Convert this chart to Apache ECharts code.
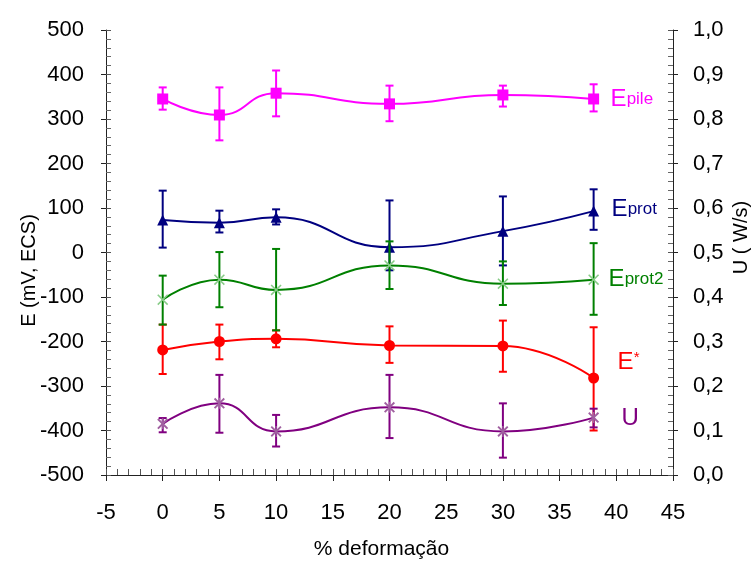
<!DOCTYPE html>
<html>
<head>
<meta charset="utf-8">
<script src="https://cdn.jsdelivr.net/npm/echarts@6/dist/echarts.min.js"></script>
<style>html,body{margin:0;padding:0;background:#fff;}#c{width:753px;height:561px;}</style>
</head>
<body>
<div id="c"></div>
<script>
// ---- data ----
const xVals = [0, 5, 10, 20, 30, 38];
const epile    = [345, 309, 358, 334, 354, 345];
const epileHi  = [371, 371, 409, 375, 375, 378];
const epileLo  = [321, 252, 306, 295, 328, 317];
const eprot    = [73, 67, 79, 12, 48, 93];
const eprotHi  = [139, 94, 97, 117, 126, 142];
const eprotLo  = [11, 45, 63, -40, -29, 51];
const eprot2   = [-106, -61, -84, -29, -70, -61];
const eprot2Hi = [-52, 1, 8, 25, -20, 21];
const eprot2Lo = [-162, -123, -175, -82, -118, -140];
const estar    = [-219, -200, -194, -209, -210, -282];
const estarHi  = [-162, -162, -175, -166, -153, -168];
const estarLo  = [-273, -240, -213, -248, -268, -400];
const uVals    = [0.115, 0.161, 0.098, 0.152, 0.098, 0.129];
const uHi      = [0.128, 0.225, 0.135, 0.225, 0.161, 0.149];
const uLo      = [0.096, 0.095, 0.064, 0.083, 0.039, 0.107];
const leftTicks = { min: -500, max: 500, interval: 100 };
const rightTicks = { min: 0, max: 1, interval: 0.1 };
const xTicks = { min: -5, max: 45, interval: 5 };

const FONT = "'Liberation Sans', Arial, sans-serif";
const chart = echarts.init(document.getElementById('c'), null, { renderer: 'canvas' });

const xSym = 'path://M0,1L1,0L5,4L9,0L10,1L6,5L10,9L9,10L5,6L1,10L0,9L4,5Z';
const starSym = 'path://M0,1.2L1.2,0L5,3.8L8.8,0L10,1.2L6.2,5L10,8.8L8.8,10L5,6.2L1.2,10L0,8.8L3.8,5Z M4.4,0L5.6,0L5.6,10L4.4,10Z';

function pts(vals) { return xVals.map((x, i) => [x, vals[i]]); }
function errData(lo, hi) { return xVals.map((x, i) => [x, lo[i], hi[i]]); }

function errSeries(lo, hi, color, yIdx, z) {
  return {
    type: 'custom', yAxisIndex: yIdx, z: z, silent: true,
    data: errData(lo, hi),
    encode: { x: 0, y: [1, 2] },
    renderItem: function (params, api) {
      const x = api.value(0);
      const a = api.coord([x, api.value(2)]);
      const b = api.coord([x, api.value(1)]);
      const w = 4;
      const st = { stroke: color, lineWidth: 2 };
      return {
        type: 'group',
        children: [
          { type: 'line', shape: { x1: a[0], y1: a[1], x2: b[0], y2: b[1] }, style: st },
          { type: 'line', shape: { x1: a[0] - w, y1: a[1], x2: a[0] + w, y2: a[1] }, style: st },
          { type: 'line', shape: { x1: b[0] - w, y1: b[1], x2: b[0] + w, y2: b[1] }, style: st }
        ]
      };
    }
  };
}

function lineSeries(name, vals, color, symbol, size, symColor, yIdx, z, label) {
  return {
    name: name, type: 'line', yAxisIndex: yIdx, z: z,
    data: pts(vals), smooth: 0.5,
    symbol: symbol, symbolSize: size,
    lineStyle: { color: color, width: 2 },
    itemStyle: { color: symColor },
    endLabel: label
  };
}

const richBase = {
  a: { fontFamily: FONT, fontSize: 24 },
  b: { fontFamily: FONT, fontSize: 17 },
  s: { fontFamily: FONT, fontSize: 15, padding: [0, 0, 9, 0] }
};
function lbl(text, color, dist, dy) {
  const rich = {};
  for (const k in richBase) rich[k] = Object.assign({ color: color }, richBase[k]);
  return { show: true, formatter: text, distance: dist, offset: [0, dy], rich: rich, color: color };
}

const axisLineStyle = { onZero: false, lineStyle: { color: '#222', width: 1 } };
const hiddenLine = { show: false, onZero: false };

const option = {
  animation: false,
  backgroundColor: '#fff',
  grid: { left: 106, right: 80, top: 30, bottom: 86, containLabel: false, outerBoundsMode: 'none' },
  xAxis: [
    {
      type: 'value', min: xTicks.min, max: xTicks.max, interval: xTicks.interval, position: 'bottom',
      name: '% deformação', nameLocation: 'middle', nameGap: 64, nameMoveOverlap: false,
      nameTextStyle: { fontFamily: FONT, fontSize: 21, color: '#000', padding: [0, 16, 0, 0] },
      axisLine: axisLineStyle,
      axisTick: { show: true, inside: false, length: 6, lineStyle: { color: '#222' } },
      axisLabel: { fontFamily: FONT, fontSize: 22, color: '#000', margin: 27 },
      splitLine: { show: false }
    },
    {
      type: 'value', min: xTicks.min, max: xTicks.max, interval: xTicks.interval, position: 'bottom',
      axisLine: hiddenLine,
      axisTick: { show: true, inside: true, length: 6, lineStyle: { color: '#555' } },
      minorTick: { show: true, splitNumber: 5, length: 6, lineStyle: { color: '#555' } },
      axisLabel: { show: false }, splitLine: { show: false }
    }
  ],
  yAxis: [
    {
      type: 'value', min: leftTicks.min, max: leftTicks.max, interval: leftTicks.interval, position: 'left',
      name: 'E (mV, ECS)', nameLocation: 'middle', nameGap: 67, nameRotate: 90, nameMoveOverlap: false,
      nameTextStyle: { fontFamily: FONT, fontSize: 20, color: '#000', padding: [0, 36, 0, 0] },
      axisLine: axisLineStyle,
      axisTick: { show: true, inside: false, length: 5, lineStyle: { color: '#222' } },
      axisLabel: { fontFamily: FONT, fontSize: 22, color: '#000', margin: 22 },
      splitLine: { show: false }
    },
    {
      type: 'value', min: rightTicks.min, max: rightTicks.max, interval: rightTicks.interval, position: 'right',
      name: 'U ( W/s)', nameLocation: 'middle', nameGap: 58, nameRotate: 90, nameMoveOverlap: false,
      nameTextStyle: { fontFamily: FONT, fontSize: 20, color: '#000', padding: [0, 0, 0, 30] },
      axisLine: axisLineStyle,
      axisTick: { show: true, inside: false, length: 5, lineStyle: { color: '#222' } },
      axisLabel: { fontFamily: FONT, fontSize: 22, color: '#000', margin: 20,
        formatter: v => v.toFixed(1).replace('.', ',') },
      splitLine: { show: false }
    },
    {
      type: 'value', min: leftTicks.min, max: leftTicks.max, interval: leftTicks.interval, position: 'left',
      axisLine: hiddenLine,
      axisTick: { show: true, inside: true, length: 5, lineStyle: { color: '#555' } },
      minorTick: { show: true, splitNumber: 5, length: 5, lineStyle: { color: '#666' } },
      axisLabel: { show: false }, splitLine: { show: false }
    },
    {
      type: 'value', min: rightTicks.min, max: rightTicks.max, interval: rightTicks.interval, position: 'right',
      axisLine: hiddenLine,
      axisTick: { show: true, inside: true, length: 5, lineStyle: { color: '#555' } },
      minorTick: { show: true, splitNumber: 5, length: 5, lineStyle: { color: '#666' } },
      axisLabel: { show: false }, splitLine: { show: false }
    }
  ],
  series: [
    errSeries(epileLo, epileHi, '#FF00FF', 0, 2),
    lineSeries('Epile', epile, '#FF00FF', 'rect', 11, '#FF00FF', 0, 3, lbl('{a|E}{b|pile}', '#FF00FF', 17, 0)),
    errSeries(eprotLo, eprotHi, '#000080', 0, 4),
    lineSeries('Eprot', eprot, '#000080', 'triangle', 11, '#000080', 0, 5, lbl('{a|E}{b|prot}', '#000080', 18, -2)),
    errSeries(estarLo, estarHi, '#FF0000', 0, 6),
    lineSeries('E*', estar, '#FF0000', 'circle', 11, '#FF0000', 0, 7, lbl('{a|E}{s|*}', '#FF0000', 24, -16)),
    errSeries(eprot2Lo, eprot2Hi, '#008000', 0, 8),
    lineSeries('Eprot2', eprot2, '#008000', xSym, 11, '#88cc88', 0, 9, lbl('{a|E}{b|prot2}', '#008000', 15, 0)),
    errSeries(uLo, uHi, '#800080', 1, 10),
    lineSeries('U', uVals, '#800080', starSym, 11, '#a060a0', 1, 11, lbl('{a|U}', '#800080', 28, 1))
  ]
};
chart.setOption(option);
</script>
</body>
</html>
